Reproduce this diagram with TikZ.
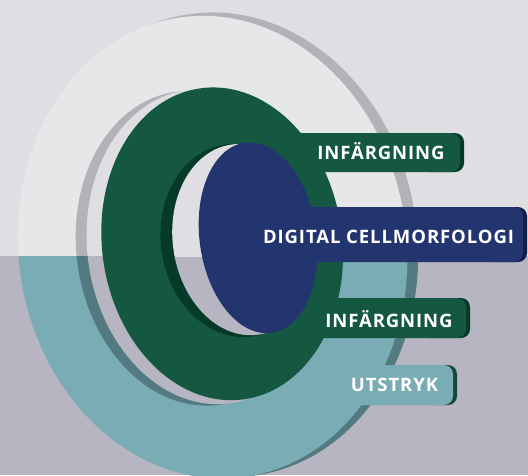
\documentclass[tikz,border=0pt]{standalone}
\usepackage{fontspec}
\newfontfamily\lblfont[LetterSpace=5]{Open Sans}
\usepackage{tikz}

\definecolor{bgtop}{HTML}{DFDEE3}
\definecolor{bgbot}{HTML}{B6B5C1}
\definecolor{ringlight}{HTML}{E6E7E9}
\definecolor{ringteal}{HTML}{7AACB5}
\definecolor{edgegray}{HTML}{B2B3B6}
\definecolor{edgeteal}{HTML}{537A80}
\definecolor{ringgreen}{HTML}{155841}
\definecolor{holegreen}{HTML}{043A27}
\definecolor{cellblue}{HTML}{22356F}
\definecolor{cellshade}{HTML}{121E48}
\definecolor{tealshade}{HTML}{16483A}

\begin{document}
\begin{tikzpicture}[x=1pt, y=-1pt,
    tilt/.style={rotate around={8:(235,242)}},
    tab/.style={rounded corners=9},
    label/.style={text=white, font=\lblfont\bfseries\fontsize{18.5}{20}\selectfont}]
  \useasboundingbox (0,0) rectangle (528,475);

  % back plate, upper and lower half
  \foreach \back/\edge/\face/\ya/\yb in {bgtop/edgegray/ringlight/0/256, bgbot/edgeteal/ringteal/256/475} {
    \begin{scope}
      \clip (0,\ya) rectangle (528,\yb);
      \fill [\back] (0,\ya) rectangle (528,\yb);
      \begin{scope}[tilt]
        \fill [\edge] (222,243) ellipse [x radius=195, y radius=233];
        \fill [\face] (212,244) ellipse [x radius=194, y radius=232];
        \fill [\edge] (197,243) ellipse [x radius=121, y radius=158];
        \fill [\back] (208,243) ellipse [x radius=121, y radius=158];
      \end{scope}
    \end{scope}
  }

  % tabs behind the green ring
  \fill [holegreen, tab] (420,133) rectangle (464,172);
  \fill [ringgreen, tab] (280,133) rectangle (460,172);
  \fill [holegreen, tab] (420,298) rectangle (470,338);
  \fill [ringgreen, tab] (280,298) rectangle (466,338);
  \fill [tealshade, tab] (420,365) rectangle (457,405);
  \fill [ringteal, tab] (320,365) rectangle (453,405);

  \begin{scope}[tilt]
    \fill [ringgreen] (222,242) ellipse [x radius=120, y radius=157];
    \fill [holegreen] (239,241) ellipse [x radius=78, y radius=97];
  \end{scope}

  \foreach \back/\ya/\yb in {bgtop/0/257, bgbot/257/475} {
    \begin{scope}
      \clip (0,\ya) rectangle (528,\yb);
      \fill [\back, tilt] (245,241) ellipse [x radius=72, y radius=96];
    \end{scope}
  }
  \fill [cellblue, tilt] (258.5,241) ellipse [x radius=58.5, y radius=96];

  \fill [cellshade, tab] (480,207) rectangle (527,262);
  \fill [cellblue, tab] (280,207) rectangle (523,262);

  \node [label] (stainA) at (381,151) {INFÄRGNING};
  \node [label] (cellmorph) at (388.5,236.5) {DIGITAL CELLMORFOLOGI};
  \node [label] (stainB) at (389,319) {INFÄRGNING};
  \node [label] (smear) at (394.5,385) {UTSTRYK};
\end{tikzpicture}
\end{document}
